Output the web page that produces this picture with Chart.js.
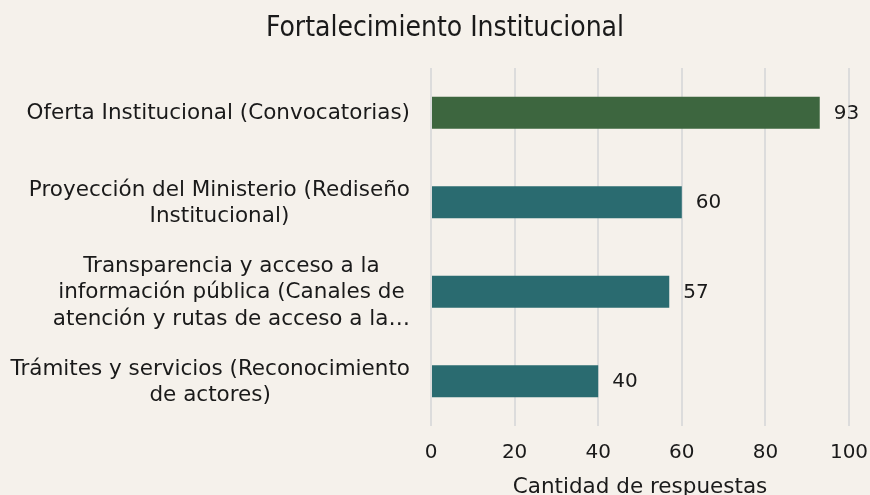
<!DOCTYPE html>
<html>
<head>
<meta charset="utf-8">
<script src="https://cdn.jsdelivr.net/npm/chart.js@4"></script>
<style>
  html, body { margin: 0; padding: 0; background: #f5f1eb; overflow: hidden; }
  #wrap { width: 870px; height: 500px; }
</style>
</head>
<body>
<div id="wrap"><canvas id="chart"></canvas></div>
<script>
// datos
const categorias = [
  ['Oferta Institucional (Convocatorias)'],
  ['Proyección del Ministerio (Rediseño', 'Institucional)'],
  ['Transparencia y acceso a la', 'información pública (Canales de', 'atención y rutas de acceso a la…'],
  ['Trámites y servicios (Reconocimiento', 'de actores)']
];
const respuestas = [93, 60, 57, 40];
const colores = ['#3d663f', '#2a6b70', '#2a6b70', '#2a6b70'];
const ticksX = [0, 20, 40, 60, 80, 100];

const fuente = 'DejaVu Sans, Verdana, sans-serif';

// etiquetas de categoría centradas por línea, bloque alineado a la derecha
const etiquetasY = {
  id: 'etiquetasY',
  afterDraw(chart) {
    const ctx = chart.ctx;
    const y = chart.scales.y;
    const derecha = chart.chartArea.left - 21;
    const alto = 26.5;
    ctx.save();
    ctx.font = '21.5px ' + fuente;
    ctx.fillStyle = '#1a1a1a';
    ctx.textAlign = 'center';
    ctx.textBaseline = 'middle';
    categorias.forEach((lineas, i) => {
      const ancho = Math.max(...lineas.map(l => ctx.measureText(l).width));
      const cx = derecha - ancho / 2;
      const cy = y.getPixelForValue(i) + 1;
      lineas.forEach((l, j) => {
        ctx.fillText(l, cx, cy + (j - (lineas.length - 1) / 2) * alto);
      });
    });
    ctx.restore();
  }
};

// valores al final de cada barra
const valores = {
  id: 'valores',
  afterDatasetsDraw(chart) {
    const ctx = chart.ctx;
    const meta = chart.getDatasetMeta(0);
    ctx.save();
    ctx.font = '20px ' + fuente;
    ctx.fillStyle = '#1a1a1a';
    ctx.textAlign = 'left';
    ctx.textBaseline = 'middle';
    meta.data.forEach((bar, i) => {
      ctx.fillText(respuestas[i], bar.x + 14, bar.y + 1);
    });
    ctx.restore();
  }
};

new Chart(document.getElementById('chart'), {
  type: 'bar',
  data: {
    labels: categorias.map(c => c.join(' ')),
    datasets: [{
      data: respuestas,
      backgroundColor: colores,
      borderWidth: 0,
      barPercentage: 0.6,
      categoryPercentage: 0.6
    }]
  },
  options: {
    indexAxis: 'y',
    responsive: true,
    maintainAspectRatio: false,
    animation: false,
    layout: { padding: { left: 41, right: 21, top: 0, bottom: 0 } },
    plugins: {
      legend: { display: false },
      tooltip: { enabled: false },
      title: {
        display: true,
        text: 'Fortalecimiento Institucional',
        color: '#1a1a1a',
        font: { family: 'DejaVu Sans Condensed, ' + fuente, size: 28, weight: 'normal', lineHeight: 1.2 },
        padding: { top: 12, bottom: 22.4 }
      }
    },
    scales: {
      x: {
        min: 0,
        max: 100,
        afterBuildTicks(s) { s.ticks = ticksX.map(v => ({ value: v })); },
        afterFit(s) { s.height = 74; s.paddingLeft = 0; s.paddingRight = 0; },
        grid: { color: '#dcdcdc', lineWidth: 2, drawTicks: false },
        border: { display: false },
        ticks: { color: '#1a1a1a', font: { family: fuente, size: 20 }, padding: 15 },
        title: {
          display: true,
          text: 'Cantidad de respuestas',
          color: '#1a1a1a',
          font: { family: fuente, size: 21.5 },
          padding: { top: 4, bottom: 0 }
        }
      },
      y: {
        afterFit(s) { s.width = 390; },
        grid: { display: false },
        border: { display: false },
        ticks: { display: false }
      }
    }
  },
  plugins: [etiquetasY, valores]
});
</script>
</body>
</html>
